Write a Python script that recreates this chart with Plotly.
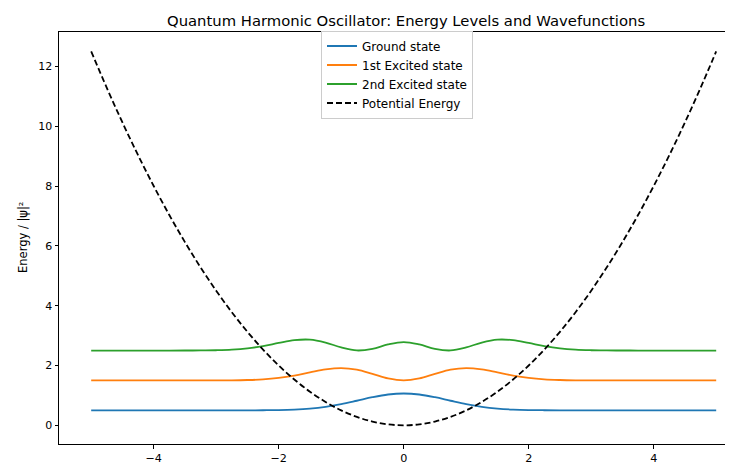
import plotly.graph_objects as go

# x positions (read at 0.25 steps)
x_vals = [-5.0, -4.75, -4.5, -4.25, -4.0, -3.75, -3.5, -3.25, -3.0, -2.75, -2.5, -2.25, -2.0,
          -1.75, -1.5, -1.25, -1.0, -0.75, -0.5, -0.25, 0.0, 0.25, 0.5, 0.75, 1.0, 1.25,
          1.5, 1.75, 2.0, 2.25, 2.5, 2.75, 3.0, 3.25, 3.5, 3.75, 4.0, 4.25, 4.5, 4.75, 5.0]

# Right half values (x = 0 .. 5), mirrored for the left half
ground_half = [1.064, 1.030, 0.939, 0.821, 0.708, 0.618, 0.559, 0.526, 0.510, 0.504, 0.501,
               0.500, 0.500, 0.500, 0.500, 0.500, 0.500, 0.500, 0.500, 0.500, 0.500]
first_half = [1.500, 1.566, 1.720, 1.862, 1.915, 1.870, 1.768, 1.662, 1.583, 1.536, 1.514,
              1.504, 1.501, 1.500, 1.500, 1.500, 1.500, 1.500, 1.500, 1.500, 1.500]
second_half = [2.782, 2.703, 2.555, 2.503, 2.604, 2.767, 2.864, 2.847, 2.753, 2.649, 2.572,
               2.529, 2.510, 2.503, 2.501, 2.500, 2.500, 2.500, 2.500, 2.500, 2.500]
potential_half = [0.0, 0.03125, 0.125, 0.28125, 0.5, 0.78125, 1.125, 1.53125, 2.0, 2.53125,
                  3.125, 3.78125, 4.5, 5.28125, 6.125, 7.03125, 8.0, 9.03125, 10.125,
                  11.28125, 12.5]


def full(half):
    return half[:0:-1] + half


ground = full(ground_half)
first = full(first_half)
second = full(second_half)
potential = full(potential_half)

series_names = ["Ground state", "1st Excited state", "2nd Excited state", "Potential Energy"]
colors = ["#1f77b4", "#ff7f0e", "#2ca02c", "#000000"]

FONT = "DejaVu Sans"

fig = go.Figure()
for name, ys, col in zip(series_names, [ground, first, second, potential], colors):
    fig.add_trace(go.Scatter(
        x=x_vals, y=ys, mode="lines", name=name,
        line=dict(color=col, width=1.8, shape="spline",
                  dash="6px,3px" if name == "Potential Energy" else "solid"),
    ))

W, H = 733, 469
L, T, B = 51, 23.5, 33
plot_w = W - L
plot_h = H - T - B

fig.update_layout(
    width=W, height=H,
    margin=dict(l=L, r=0, t=T, b=B, pad=0),
    paper_bgcolor="white", plot_bgcolor="white",
    font=dict(family=FONT, size=11, color="#000000"),
    showlegend=True,
    legend=dict(x=(313 - L) / plot_w, y=(H - B - 22) / plot_h, xanchor="left", yanchor="top",
                bgcolor="rgba(255,255,255,0.8)", bordercolor="#cccccc", borderwidth=1,
                font=dict(family=FONT, size=12, color="#000000"),
                tracegroupgap=0),
    xaxis=dict(range=[-5.515, 5.397], showgrid=False, zeroline=False,
               showline=True, linecolor="#000000", linewidth=1, mirror=True,
               ticks="outside", ticklen=3.5, tickcolor="#000000", tickwidth=1,
               tickvals=[-4, -2, 0, 2, 4], ticktext=["−4", "−2", "0", "2", "4"],
               tickfont=dict(family=FONT, size=11.2, color="#000000")),
    yaxis=dict(range=[-0.625, 13.15], showgrid=False, zeroline=False,
               showline=True, linecolor="#000000", linewidth=1, mirror=False,
               ticks="outside", ticklen=3.5, tickcolor="#000000", tickwidth=1,
               tickvals=[0, 2, 4, 6, 8, 10, 12],
               tickfont=dict(family=FONT, size=11, color="#000000")),
    annotations=[
        dict(text="Quantum Harmonic Oscillator: Energy Levels and Wavefunctions",
             xref="paper", x=(397.5 - L) / plot_w, yref="paper", y=1 + (T - 11.5) / plot_h,
             xanchor="center", yanchor="middle", showarrow=False,
             font=dict(family=FONT, size=14.8, color="#000000")),
        dict(text="x", xref="x", x=0, yref="paper", y=-(466.5 - (H - B)) / plot_h,
             xanchor="center", yanchor="middle", showarrow=False,
             font=dict(family=FONT, size=11.5, color="#000000")),
        dict(text="Energy / |ψ|²", xref="paper", x=-(L - 15) / plot_w, yref="paper", y=0.5,
             xanchor="center", yanchor="middle", textangle=-90, showarrow=False,
             font=dict(family=FONT, size=11.5, color="#000000")),
    ],
)

fig.write_html("out.html")
